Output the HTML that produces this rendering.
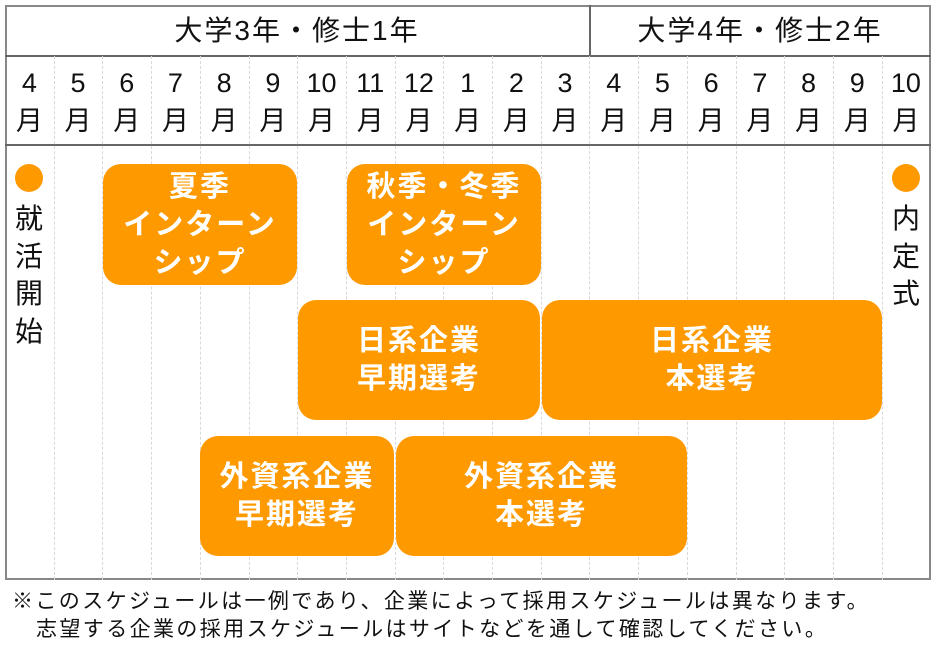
<!DOCTYPE html>
<html><head><meta charset="utf-8"><style>
*{margin:0;padding:0;box-sizing:border-box}
body{width:936px;height:652px;background:#fff;position:relative;overflow:hidden;font-family:"Liberation Sans","Noto Sans CJK JP",sans-serif;color:#111}
.a{position:absolute}
.vl{position:absolute;top:56px;height:524px;border-left:1px dashed #d8d8d8}
.m{position:absolute;top:64px;width:48.7px;text-align:center;font-size:27px;line-height:38px}
.b{position:absolute;background:#fe9a00;border-radius:18px;color:#fff;font-weight:bold;font-size:29px;line-height:38px;display:flex;align-items:center;justify-content:center;text-align:center;letter-spacing:2px}
.dot{position:absolute;width:28px;height:28px;border-radius:50%;background:#fe9a00}
.v{position:absolute;width:40px;text-align:center;font-size:28px;line-height:37.5px}
.f{position:absolute;left:12px;font-size:21px;line-height:28px;white-space:nowrap;letter-spacing:2.4px}
</style></head><body>
<div class="a" style="left:5px;top:5px;width:926px;height:575px;border:2px solid #888"></div>
<div class="a" style="left:5px;top:55px;width:926px;border-top:2px solid #666"></div>
<div class="a" style="left:5px;top:144px;width:926px;border-top:2px solid #666"></div>
<div class="a" style="left:589px;top:5px;height:51px;border-left:2px solid #666"></div>
<div class="a" style="left:5px;top:12px;width:584px;text-align:center;font-size:28px;line-height:38px;letter-spacing:2px">大学3年・修士1年</div>
<div class="a" style="left:590px;top:12px;width:340px;text-align:center;font-size:28px;line-height:38px;letter-spacing:2px">大学4年・修士2年</div>
<div id="g"></div>
<script>
var g=document.getElementById('g'),h='';
var ms=[4,5,6,7,8,9,10,11,12,1,2,3,4,5,6,7,8,9,10];
for(var i=0;i<19;i++){var x=5+48.7*i;if(i>0)h+='<div class="vl" style="left:'+x.toFixed(1)+'px"></div>';h+='<div class="m" style="left:'+x.toFixed(1)+'px">'+ms[i]+'<br>月</div>';}
g.innerHTML=h;
</script>
<div class="dot" style="left:15px;top:164px"></div>
<div class="dot" style="left:892px;top:164px"></div>
<div class="v" style="left:9px;top:200px">就<br>活<br>開<br>始</div>
<div class="v" style="left:886px;top:200px">内<br>定<br>式</div>
<div class="b" style="left:103px;top:164px;width:194px;height:121px">夏季<br>インターン<br>シップ</div>
<div class="b" style="left:347px;top:164px;width:194px;height:121px">秋季・冬季<br>インターン<br>シップ</div>
<div class="b" style="left:298px;top:300px;width:242px;height:120px">日系企業<br>早期選考</div>
<div class="b" style="left:542px;top:300px;width:340px;height:120px">日系企業<br>本選考</div>
<div class="b" style="left:200px;top:436px;width:194px;height:120px">外資系企業<br>早期選考</div>
<div class="b" style="left:396px;top:436px;width:291px;height:120px">外資系企業<br>本選考</div>
<div class="f" style="top:588px">※このスケジュールは一例であり、企業によって採用スケジュールは異なります。</div>
<div class="f" style="top:616px;left:36px">志望する企業の採用スケジュールはサイトなどを通して確認してください。</div>
</body></html>
